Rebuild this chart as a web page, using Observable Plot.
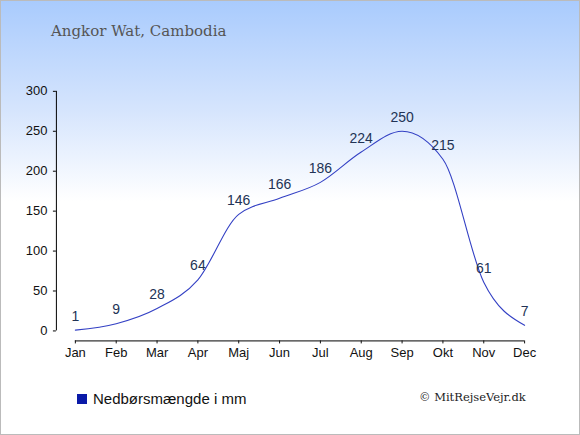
<!DOCTYPE html>
<html><head><meta charset="utf-8">
<script src="https://cdn.jsdelivr.net/npm/d3@7"></script>
<script src="https://cdn.jsdelivr.net/npm/@observablehq/plot@0.6"></script>
<style>
html,body{margin:0;padding:0;}
#wrap{position:relative;width:580px;height:435px;box-sizing:border-box;border:1px solid #bbb;
 background:linear-gradient(to bottom,#a9cbfd 0px,#d6e5fd 110px,#ffffff 200px,#ffffff 435px);overflow:hidden;font-family:"Liberation Sans",Arial,sans-serif;}
#title{position:absolute;left:50px;top:21px;font-family:"DejaVu Serif",Georgia,serif;font-size:15px;color:#555;}
#chart{position:absolute;left:-1px;top:-1px;}
#legend{position:absolute;left:76px;top:389px;font-size:15px;color:#111;display:flex;align-items:center;}
#legend span.sw{display:inline-block;width:10px;height:10px;background:#0a1aa8;margin-right:6px;}
#copy{position:absolute;left:418px;top:389px;font-family:"DejaVu Serif",Georgia,serif;font-size:11.5px;color:#222;}
</style></head>
<body>
<div id="wrap">
<div id="title">Angkor Wat, Cambodia</div>
<div id="chart"></div>
<div id="legend"><span class="sw"></span>Nedbørsmængde i mm</div>
<div id="copy">© MitRejseVejr.dk</div>
</div>
<script>
const months = ["Jan","Feb","Mar","Apr","Maj","Jun","Jul","Aug","Sep","Okt","Nov","Dec"];
const rain = [1,9,28,64,146,166,186,224,250,215,61,7];
const yTicks = [0,50,100,150,200,250,300];
const seriesName = "Nedbørsmængde i mm";

const data = months.map((m,i)=>({month:m, value:rain[i]}));

const chart = Plot.plot({
  width: 580,
  height: 435,
  marginLeft: 56,
  marginRight: 56,
  marginTop: 91,
  marginBottom: 94,
  style: {background: "transparent", fontFamily: "'Liberation Sans', Arial, sans-serif", fontSize: "13px", color: "#111", overflow: "visible"},
  x: {type: "point", domain: months, range: [75, 525], padding: 0, round: false},
  y: {domain: [-12.5, 300]},
  marks: [
    Plot.ruleX([{m:"Jan"}], {x: "m", y1: 0, y2: 300, dx: -19, stroke: "#000"}),
    Plot.ruleY([{y:-12.5, a:"Jan", b:"Dec"}], {y: "y", x1: "a", x2: "b", stroke: "#000"}),
    Plot.axisY({ticks: yTicks, tickSize: 3, tickPadding: 6, label: null, fontSize: 13, stroke: "#000"}),
    Plot.axisX({tickSize: 3, tickPadding: 4, label: null, fontSize: 13}),
    Plot.line(data, {x: "month", y: "value", curve: "monotone-x", stroke: "#3340c4", strokeWidth: 1.1}),
    Plot.text(data, {x: "month", y: "value", text: d => String(d.value), dy: -14, fill: "#223355", fontSize: 14})
  ]
});
document.getElementById("chart").appendChild(chart);
</script>
</body></html>
